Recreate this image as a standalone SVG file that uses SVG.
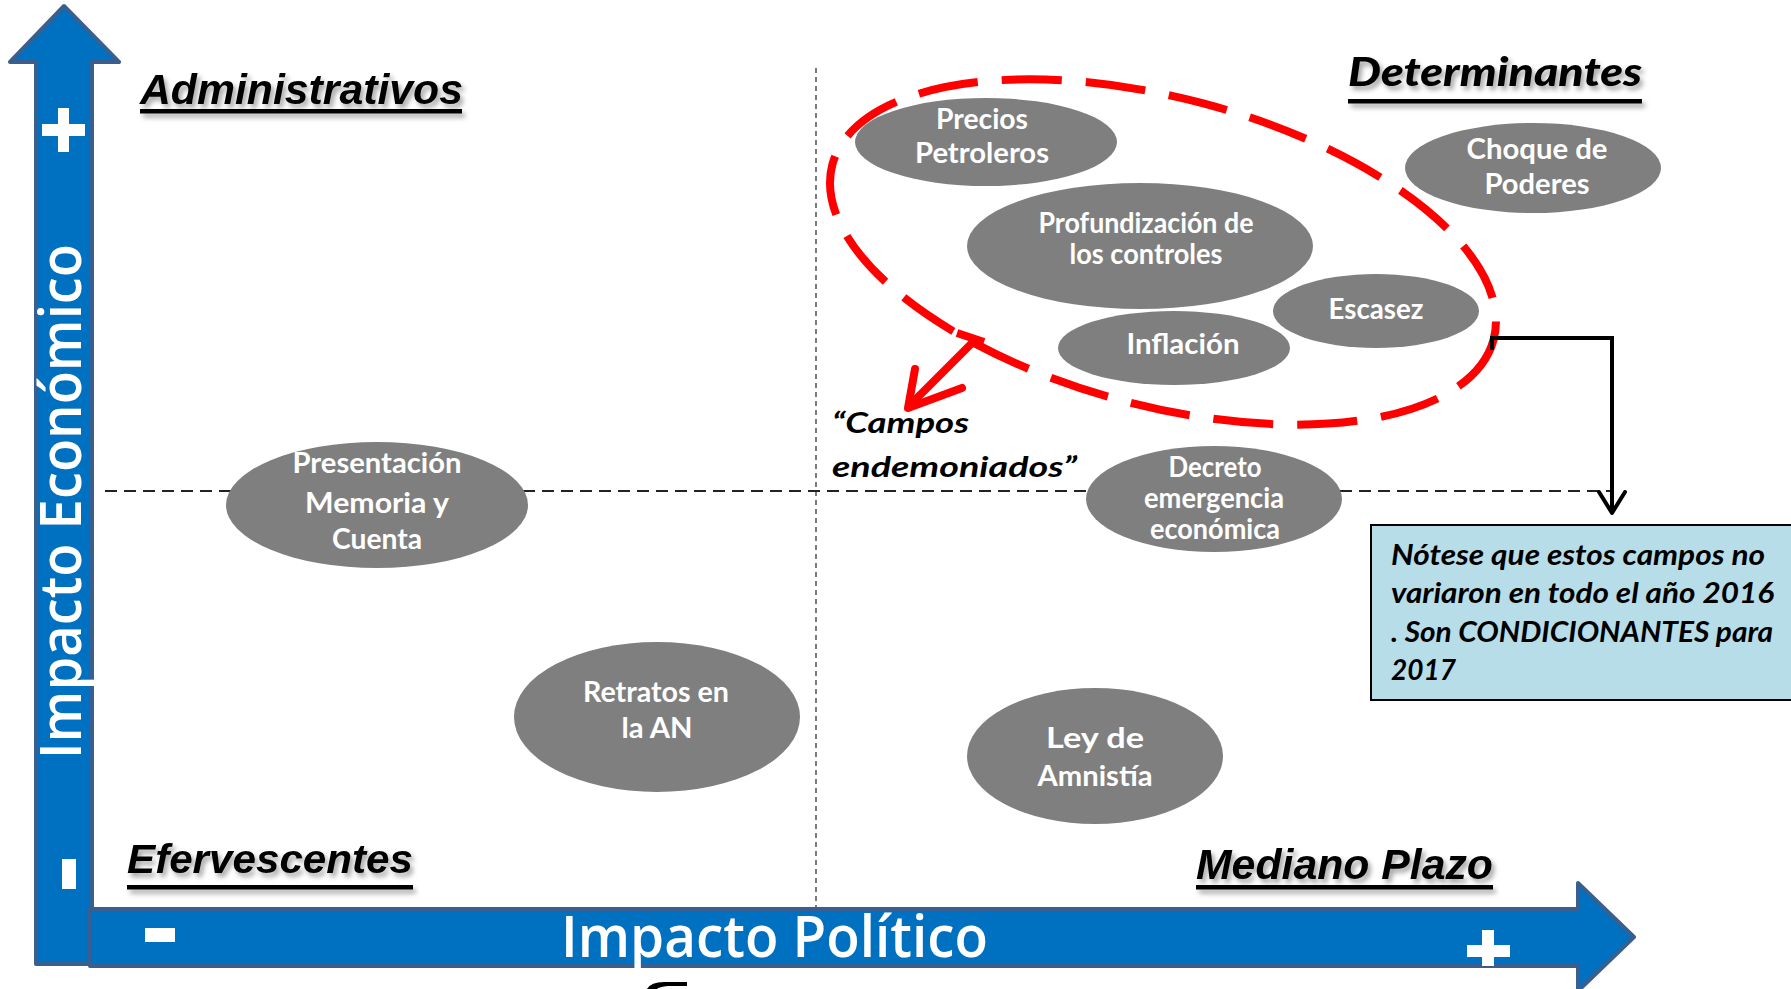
<svg xmlns="http://www.w3.org/2000/svg" xmlns:xlink="http://www.w3.org/1999/xlink" width="1791" height="989" viewBox="0 0 1791 989">
<style>
.title{font-family:"Liberation Sans",Arial,sans-serif;font-weight:bold;font-style:italic;fill:#000}
.node{fill:#7f7f7f}
.nt{font-family:Lato,"Open Sans",sans-serif;font-weight:bold;font-size:28px;fill:#fff;text-anchor:middle}
.axis{font-family:"Open Sans",sans-serif;font-weight:600;fill:#fff}
.note{font-family:Lato,"Liberation Sans",sans-serif;font-weight:bold;font-style:italic;font-size:29px;fill:#000}
.sign{fill:#fff}
.arrowshape{fill:#0070c0;stroke:#3a5f8e;stroke-width:4;stroke-linejoin:round}
</style>
<defs>
<filter id="sh" x="-10%" y="-40%" width="130%" height="200%">
<feDropShadow dx="3" dy="4" stdDeviation="2.5" flood-color="#000" flood-opacity="0.35"/>
</filter>
<clipPath id="refl"><rect x="100" y="873" width="340" height="13"/></clipPath>
</defs>
<rect width="1791" height="989" fill="#fff"/>

<g id="grid">
<line x1="816" y1="68" x2="816" y2="908" stroke="#333" stroke-width="1.3" stroke-dasharray="5 4"/>
<line x1="105" y1="491" x2="1612" y2="491" stroke="#222" stroke-width="2" stroke-dasharray="12 7"/>
</g>

<g id="axis-y">
<path class="arrowshape" d="M36,964 L36,62 L10,62 L64,6 L119,62 L92,62 L92,964 Z"/>
<rect class="sign" x="42" y="124" width="43" height="12"/>
<rect class="sign" x="58" y="108" width="11" height="44"/>
<rect class="sign" x="62" y="859" width="14" height="30"/>
<text class="axis" font-size="57" transform="translate(81,759) rotate(-90)" textLength="515" lengthAdjust="spacingAndGlyphs">Impacto Económico</text>
</g>

<g id="axis-x">
<path class="arrowshape" d="M90,909 L1578,909 L1578,883 L1634,937 L1578,991 L1578,966 L90,966 Z"/>
<rect class="sign" x="145" y="928" width="30" height="14"/>
<rect class="sign" x="1467" y="945" width="43" height="12"/>
<rect class="sign" x="1482" y="930" width="12" height="36"/>
<text class="axis" x="561" y="957" font-size="57" textLength="427" lengthAdjust="spacingAndGlyphs">Impacto Político</text>
</g>

<g id="label-administrativos" filter="url(#sh)">
<text class="title" x="140" y="104" font-size="43" textLength="323" lengthAdjust="spacingAndGlyphs">Administrativos</text>
<rect x="140" y="109" width="322" height="4.5"/>
</g>
<g id="label-efervescentes">
<use xlink:href="#eftext" href="#eftext" clip-path="url(#refl)" transform="translate(0,1746) scale(1,-1)" style="fill:#888;opacity:0.45"/>
<g filter="url(#sh)">
<text id="eftext" class="title" x="127" y="873" font-size="41" textLength="286" lengthAdjust="spacingAndGlyphs">Efervescentes</text>
<rect x="127" y="885" width="286" height="4.5"/>
</g>
</g>
<g id="label-mediano" filter="url(#sh)">
<text class="title" x="1196" y="879" font-size="43" textLength="297" lengthAdjust="spacingAndGlyphs">Mediano Plazo</text>
<rect x="1196" y="885" width="297" height="4.5"/>
</g>
<g id="label-determinantes" filter="url(#sh)">
<text x="1348" y="86" font-family="Lato,'Liberation Sans',sans-serif" font-weight="900" font-style="italic" font-size="40" textLength="294" lengthAdjust="spacingAndGlyphs">Determinantes</text>
<rect x="1348" y="99" width="294" height="4.5"/>
</g>

<g id="node-presentacion">
<ellipse class="node" cx="377" cy="505" rx="151" ry="63"/>
<text class="nt" x="377" y="473" textLength="169" lengthAdjust="spacingAndGlyphs">Presentación</text>
<text class="nt" x="377" y="513" textLength="144" lengthAdjust="spacingAndGlyphs">Memoria y</text>
<text class="nt" x="377" y="549" textLength="90" lengthAdjust="spacingAndGlyphs">Cuenta</text>
</g>
<g id="node-retratos">
<ellipse class="node" cx="657" cy="717" rx="143" ry="75"/>
<text class="nt" x="656" y="702" textLength="146" lengthAdjust="spacingAndGlyphs">Retratos en</text>
<text class="nt" x="657" y="738" textLength="71" lengthAdjust="spacingAndGlyphs">la AN</text>
</g>
<g id="node-ley">
<ellipse class="node" cx="1095" cy="756" rx="128" ry="68"/>
<text class="nt" x="1095" y="748" textLength="98" lengthAdjust="spacingAndGlyphs">Ley de</text>
<text class="nt" x="1095" y="786" textLength="115" lengthAdjust="spacingAndGlyphs">Amnistía</text>
</g>
<g id="node-decreto">
<ellipse class="node" cx="1214" cy="499" rx="128" ry="53"/>
<text class="nt" x="1215" y="477" textLength="93" lengthAdjust="spacingAndGlyphs">Decreto</text>
<text class="nt" x="1214" y="508" textLength="140" lengthAdjust="spacingAndGlyphs">emergencia</text>
<text class="nt" x="1215" y="539" textLength="130" lengthAdjust="spacingAndGlyphs">económica</text>
</g>
<g id="node-precios">
<ellipse class="node" cx="986" cy="142" rx="131" ry="44"/>
<text class="nt" x="982" y="129" textLength="92" lengthAdjust="spacingAndGlyphs">Precios</text>
<text class="nt" x="982" y="163" textLength="134" lengthAdjust="spacingAndGlyphs">Petroleros</text>
</g>
<g id="node-profundizacion">
<ellipse class="node" cx="1140" cy="246" rx="173" ry="63"/>
<text class="nt" x="1146" y="233" textLength="215" lengthAdjust="spacingAndGlyphs">Profundización de</text>
<text class="nt" x="1146" y="264" textLength="153" lengthAdjust="spacingAndGlyphs">los controles</text>
</g>
<g id="node-inflacion">
<ellipse class="node" cx="1174" cy="348" rx="116" ry="37"/>
<text class="nt" x="1183" y="354" textLength="113" lengthAdjust="spacingAndGlyphs">Inflación</text>
</g>
<g id="node-escasez">
<ellipse class="node" cx="1376" cy="311" rx="103" ry="37"/>
<text class="nt" x="1376" y="319" textLength="95" lengthAdjust="spacingAndGlyphs">Escasez</text>
</g>
<g id="node-choque">
<ellipse class="node" cx="1533" cy="168" rx="128" ry="45"/>
<text class="nt" x="1537" y="159" textLength="141" lengthAdjust="spacingAndGlyphs">Choque de</text>
<text class="nt" x="1537" y="194" textLength="105" lengthAdjust="spacingAndGlyphs">Poderes</text>
</g>

<g id="group-campos">
<ellipse cx="1163" cy="252" rx="342" ry="154" transform="rotate(14.8 1163 252)" fill="none" stroke="#ff0000" stroke-width="8" stroke-dasharray="60 24"/>
</g>

<g id="connectors" fill="none" stroke-linecap="round" stroke-linejoin="round">
<line x1="957" y1="333" x2="984" y2="342" stroke="#ff0000" stroke-width="8" stroke-linecap="butt"/>
<line x1="975" y1="340" x2="910" y2="405" stroke="#ff0000" stroke-width="8"/>
<polyline points="915,369 908,408 962,388" stroke="#ff0000" stroke-width="8"/>
<path d="M1492,350 L1492,338 L1612,338 L1612,511" stroke="#000" stroke-width="4" stroke-linecap="butt" stroke-linejoin="miter"/>
<polyline points="1599,492 1612,513 1625,492" stroke="#000" stroke-width="4"/>
</g>

<g id="label-campos">
<text class="note" x="832" y="433" font-size="34" textLength="137" lengthAdjust="spacingAndGlyphs">“Campos</text>
<text class="note" x="832" y="477" font-size="34" textLength="245" lengthAdjust="spacingAndGlyphs">endemoniados”</text>
</g>

<g id="note">
<rect x="1371" y="525" width="440" height="175" fill="#b7dde8" stroke="#000" stroke-width="2"/>
<text class="note" x="1391" y="565" textLength="374" lengthAdjust="spacingAndGlyphs">Nótese que estos campos no</text>
<text class="note" x="1391" y="603" textLength="383" lengthAdjust="spacingAndGlyphs">variaron en todo el año 2016</text>
<text class="note" x="1391" y="642" textLength="382" lengthAdjust="spacingAndGlyphs">. Son CONDICIONANTES para</text>
<text class="note" x="1391" y="680" textLength="65" lengthAdjust="spacingAndGlyphs">2017</text>
</g>

<path d="M647,989 Q651,982 664,982 L687,982 L687,986 L668,986 Q659,987 657,989 Z" fill="#000"/>
</svg>
